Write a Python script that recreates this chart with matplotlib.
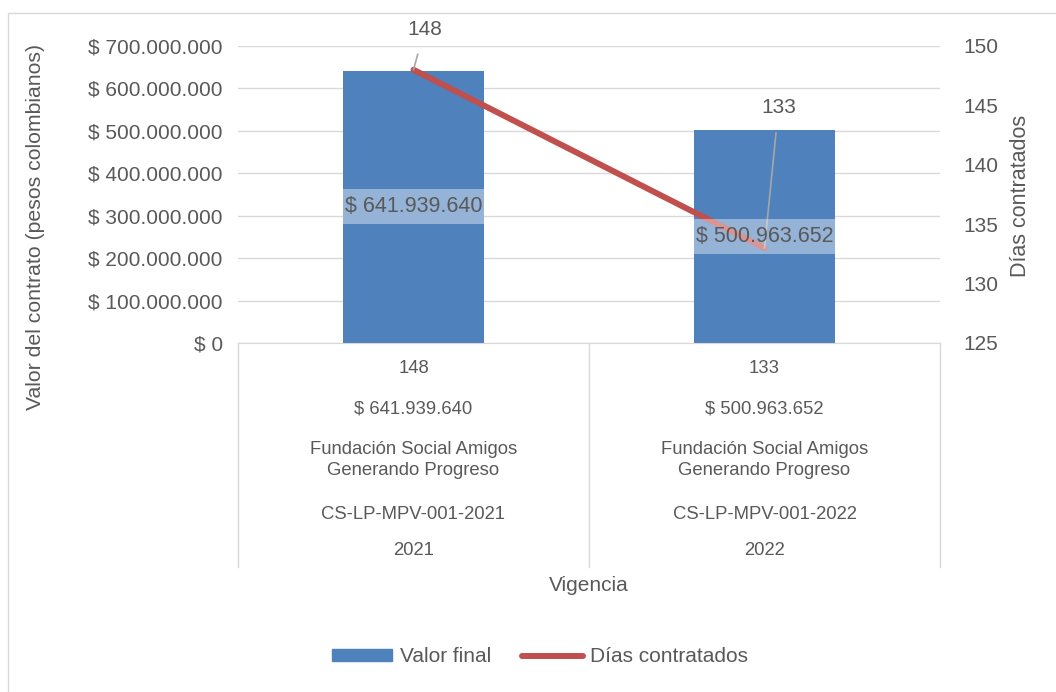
import matplotlib.pyplot as plt
from matplotlib.lines import Line2D
from matplotlib.patches import Patch, Rectangle

plt.rcParams["font.family"] = ["Liberation Sans", "DejaVu Sans"]

# datos
vigencias = ["2021", "2022"]
contratos = ["CS-LP-MPV-001-2021", "CS-LP-MPV-001-2022"]
contratistas = ["Fundación Social Amigos\nGenerando Progreso", "Fundación Social Amigos\nGenerando Progreso"]
valor_final = [641939640, 500963652]
dias = [148, 133]

gris = "#595959"
azul = "#4F81BD"
rojo = "#C0504D"


def pesos(v):
    return "$ " + f"{v:,.0f}".replace(",", ".")


fig = plt.figure(figsize=(10.56, 6.92), dpi=100)
ax = fig.add_axes([238 / 1056, 1 - 343 / 692, 702 / 1056, 297 / 692])
ax2 = ax.twinx()

x = list(range(len(vigencias)))
ancho = 0.4
ax.bar(x, valor_final, width=ancho, color=azul, zorder=2)
ax.set_xlim(-0.5, 1.5)
ax.set_ylim(0, 700000000)
ax.set_yticks(range(0, 700000001, 100000000))
ax.set_yticklabels([pesos(v) for v in range(0, 700000001, 100000000)])
ax.grid(axis="y", color="#D9D9D9", lw=1, zorder=0)
ax.set_axisbelow(True)
ax.set_xticks([])

ax2.plot(x, dias, color=rojo, lw=4.3, solid_capstyle="round", zorder=3)
ax2.set_ylim(125, 150)
ax2.set_yticks(range(125, 151, 5))

for a in (ax, ax2):
    for s in a.spines.values():
        s.set_visible(False)
    a.tick_params(length=0, labelsize=15, colors=gris)
ax.tick_params(axis="y", pad=11)
ax2.tick_params(axis="y", pad=17)
ax.spines["bottom"].set_visible(True)
ax.spines["bottom"].set_color("#D9D9D9")

# etiquetas de las barras (con fondo claro del ancho de la barra)
alto_caja = 82e6
for xi, v in zip(x, valor_final):
    ax2.add_patch(Rectangle((xi - ancho / 2, v / 2 - alto_caja / 2), ancho, alto_caja,
                            transform=ax.transData, fc="white", ec="none", alpha=0.4, zorder=4))
    ax2.text(xi, v / 2, pesos(v), transform=ax.transData, ha="center", va="center",
             fontsize=15.5, color=gris, zorder=5)

# etiquetas de la linea
offsets = [(11, 40), (14, 140)]
for xi, d, off in zip(x, dias, offsets):
    ax2.annotate(str(d), xy=(xi, d), xytext=off, textcoords="offset pixels",
                 ha="center", va="center", fontsize=15, color=gris,
                 arrowprops=dict(arrowstyle="-", color="#A6A6A6", lw=1.2,
                                 shrinkA=9, shrinkB=0))

# tabla de categorias
for xv in [-0.5, 0.5, 1.5]:
    ax.add_line(Line2D([xv, xv], [0, -0.754], transform=ax.get_xaxis_transform(),
                       color="#D9D9D9", lw=1, clip_on=False))
filas = [
    (-0.087, [str(d) for d in dias]),
    (-0.222, [pesos(v) for v in valor_final]),
    (-0.394, contratistas),
    (-0.579, contratos),
    (-0.697, vigencias),
]
for yf, textos in filas:
    for xi, t in zip(x, textos):
        ax.text(xi, yf, t, transform=ax.get_xaxis_transform(), ha="center", va="center",
                fontsize=13.3, color=gris, linespacing=1.3)

ax.text(0.5, -0.815, "Vigencia", transform=ax.transAxes, ha="center", va="center",
        fontsize=15, color=gris)

fig.text(36 / 1056, 1 - 227 / 692, "Valor del contrato (pesos colombianos)", rotation=90,
         ha="center", va="center", fontsize=15.3, color=gris)
fig.text(1020 / 1056, 1 - 196 / 692, "Días contratados", rotation=90,
         ha="center", va="center", fontsize=15.5, color=gris)

# leyenda
handles = [Patch(color=azul), Line2D([], [], color=rojo, lw=4.3, solid_capstyle="round")]
fig.legend(handles, ["Valor final", "Días contratados"], loc="center",
           bbox_to_anchor=(540 / 1056, 1 - 657 / 692), ncol=2, frameon=False,
           fontsize=15, labelcolor=gris, handlelength=2.9, handleheight=0.45,
           handletextpad=0.35, columnspacing=1.5)

# borde del area del grafico
fig.add_artist(Rectangle((8 / 1056, -0.1), 1.2, (1 - 13 / 692) + 0.1,
                         transform=fig.transFigure, fill=False, ec="#D9D9D9", lw=1))

fig.savefig("out.png", dpi=100, facecolor="white")
